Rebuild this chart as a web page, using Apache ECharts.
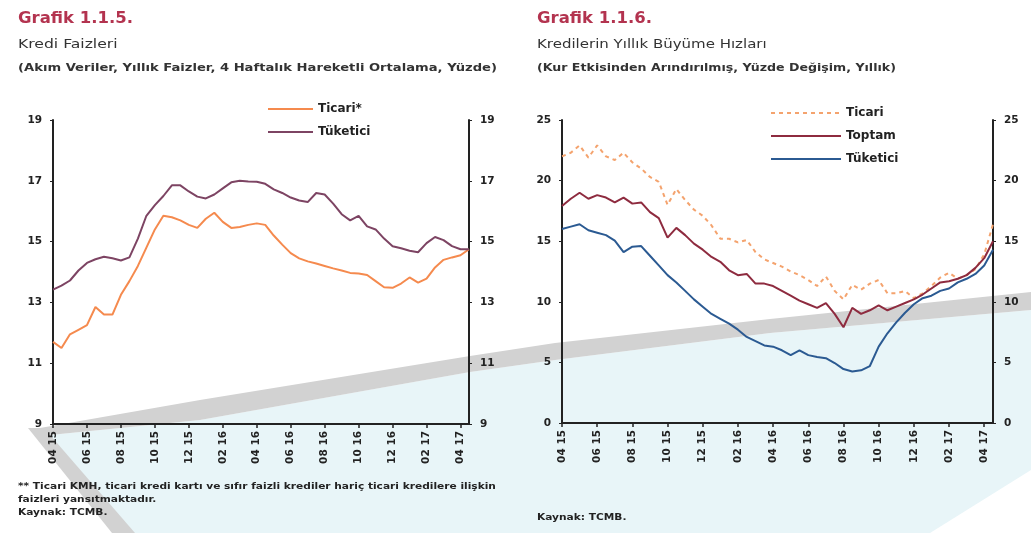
<!DOCTYPE html>
<html>
<head>
<meta charset="utf-8">
<script src="https://cdn.jsdelivr.net/npm/echarts@6/dist/echarts.min.js"></script>
<style>
  html, body { margin: 0; padding: 0; background: #fff; }
  #main { width: 1031px; height: 533px; }
</style>
</head>
<body>
<div id="main"></div>
<script>
// yarim aylik kategoriler: 04 15 ... 04 17 (sonu Nisan 17 ortasi)
const periods = [];
for (let i = 0; i < 50; i++) {
  const mm = ((3 + Math.floor(i / 2)) % 12) + 1;
  const yy = 15 + Math.floor((3 + Math.floor(i / 2)) / 12);
  periods.push((mm < 10 ? '0' + mm : '' + mm) + ' ' + yy + (i % 2 ? ' b' : ''));
}

// Grafik 1.1.5 - Kredi Faizleri
const faizTicari = [11.7, 11.5, 11.95, 12.1, 12.25, 12.85, 12.6, 12.6, 13.25, 13.7,
  14.2, 14.8, 15.4, 15.85, 15.8, 15.7, 15.55, 15.45, 15.75, 15.95,
  15.65, 15.45, 15.48, 15.55, 15.6, 15.55, 15.2, 14.9, 14.62, 14.45,
  14.35, 14.28, 14.2, 14.12, 14.05, 13.97, 13.95, 13.9, 13.7, 13.5,
  13.48, 13.62, 13.82, 13.65, 13.78, 14.15, 14.4, 14.48, 14.55, 14.75];
const faizTuketici = [13.42, 13.55, 13.72, 14.05, 14.3, 14.42, 14.5, 14.45, 14.38, 14.48,
  15.1, 15.85, 16.2, 16.5, 16.85, 16.85, 16.65, 16.48, 16.42, 16.55,
  16.75, 16.95, 17.0, 16.98, 16.97, 16.9, 16.72, 16.6, 16.45, 16.35,
  16.3, 16.6, 16.55, 16.25, 15.9, 15.7, 15.85, 15.5, 15.4, 15.1,
  14.85, 14.78, 14.7, 14.65, 14.95, 15.15, 15.05, 14.85, 14.75, 14.75];

// Grafik 1.1.6 - Kredilerin Yillik Buyume Hizlari
const buyumeTicari = [22.0, 22.3, 22.9, 21.9, 22.9, 22.0, 21.7, 22.3, 21.5, 21.0,
  20.3, 19.9, 18.0, 19.3, 18.4, 17.6, 17.1, 16.3, 15.2, 15.2,
  14.9, 15.1, 14.1, 13.5, 13.2, 12.9, 12.5, 12.2, 11.8, 11.3,
  12.1, 10.9, 10.2, 11.4, 11.0, 11.5, 11.8, 10.7, 10.7, 10.9,
  10.3, 10.7, 11.3, 12.0, 12.4, 11.9, 12.2, 12.7, 13.9, 16.4];
const buyumeToplam = [17.9, 18.5, 19.0, 18.5, 18.8, 18.6, 18.2, 18.6, 18.1, 18.2,
  17.4, 16.9, 15.3, 16.1, 15.5, 14.8, 14.3, 13.7, 13.3, 12.6,
  12.2, 12.3, 11.5, 11.5, 11.3, 10.9, 10.5, 10.1, 9.8, 9.5,
  9.9, 9.0, 7.9, 9.5, 9.0, 9.3, 9.7, 9.3, 9.6, 9.9,
  10.2, 10.6, 11.1, 11.6, 11.7, 11.9, 12.2, 12.8, 13.6, 15.0];
const buyumeTuketici = [16.0, 16.2, 16.4, 15.9, 15.7, 15.5, 15.05, 14.1, 14.55, 14.6,
  13.8, 13.0, 12.2, 11.6, 10.9, 10.2, 9.6, 9.0, 8.6, 8.2,
  7.7, 7.1, 6.75, 6.4, 6.3, 6.0, 5.6, 6.0, 5.6, 5.45,
  5.35, 4.95, 4.45, 4.25, 4.35, 4.7, 6.3, 7.4, 8.3, 9.1,
  9.8, 10.3, 10.5, 10.9, 11.1, 11.6, 11.9, 12.3, 13.0, 14.3];

const FONT = 'DejaVu Sans';
const legendNames = { 'Tüketici kredisi': 'Tüketici' };

function xAxisFor(gridIndex) {
  return {
    type: 'category', gridIndex: gridIndex, data: periods, boundaryGap: false,
    axisLine: { lineStyle: { color: '#222', width: 2 } },
    axisTick: { interval: 3, length: 4, lineStyle: { color: '#222', width: 1.5 } },
    axisLabel: {
      interval: 3, rotate: 90, margin: 7, color: '#222',
      fontFamily: FONT, fontWeight: 'bold', fontSize: 10.5,
      formatter: v => v.slice(0, 5)
    }
  };
}

function yAxisFor(gridIndex, pos, min, max, step) {
  return {
    type: 'value', gridIndex: gridIndex, position: pos,
    min: min, max: max, interval: step,
    splitLine: { show: false },
    axisLine: { show: true, lineStyle: { color: '#222', width: 2 } },
    axisTick: { show: true, length: 3, lineStyle: { color: '#222' } },
    axisLabel: { margin: 11, color: '#222', fontFamily: FONT, fontWeight: 'bold', fontSize: 10.5 }
  };
}

// yazilar genis bir yazi tipinde, bu yuzden yatayda biraz esnetiliyor
function txt(x, y, s, size, weight, color, sx) {
  return { type: 'text', x: x, y: y, scaleX: sx || 1, z: 10, silent: true,
    style: { text: s, x: 0, y: 0, verticalAlign: 'top',
      font: weight + ' ' + size + 'px "' + FONT + '"', fill: color } };
}

const legendText = { color: '#222', fontFamily: FONT, fontWeight: 'bold', fontSize: 12 };

const chart = echarts.init(document.getElementById('main'));

const option = {
  backgroundColor: '#ffffff',
  animation: false,
  grid: [
    { left: 53, right: 562, top: 120, bottom: 109 },
    { left: 562, right: 38, top: 120, bottom: 110 }
  ],
  xAxis: [xAxisFor(0), xAxisFor(1)],
  yAxis: [
    yAxisFor(0, 'left', 9, 19, 2),
    yAxisFor(0, 'right', 9, 19, 2),
    yAxisFor(1, 'left', 0, 25, 5),
    yAxisFor(1, 'right', 0, 25, 5)
  ],
  legend: [
    {
      data: ['Ticari*', 'Tüketici'], orient: 'vertical', left: 262, top: 98,
      itemWidth: 45, itemHeight: 12, itemGap: 11,
      itemStyle: { opacity: 0 },
      textStyle: legendText
    },
    {
      data: ['Ticari', 'Toptam', 'Tüketici kredisi'], orient: 'vertical', left: 765, top: 102,
      itemWidth: 70, itemHeight: 12, itemGap: 11,
      itemStyle: { opacity: 0 },
      formatter: n => legendNames[n] || n,
      textStyle: legendText
    }
  ],
  series: [
    { name: 'Ticari*', type: 'line', xAxisIndex: 0, yAxisIndex: 0, data: faizTicari,
      symbol: 'none', lineStyle: { color: '#f58a4e', width: 2 }, itemStyle: { color: '#f58a4e' } },
    { name: 'Tüketici', type: 'line', xAxisIndex: 0, yAxisIndex: 0, data: faizTuketici,
      symbol: 'none', lineStyle: { color: '#7d4463', width: 2 }, itemStyle: { color: '#7d4463' } },
    { name: 'Ticari', type: 'line', xAxisIndex: 1, yAxisIndex: 2, data: buyumeTicari,
      symbol: 'none', lineStyle: { color: '#f4a36e', width: 2, type: [4, 4] }, itemStyle: { color: '#f4a36e' } },
    { name: 'Toptam', type: 'line', xAxisIndex: 1, yAxisIndex: 2, data: buyumeToplam,
      symbol: 'none', lineStyle: { color: '#8e2b3f', width: 2 }, itemStyle: { color: '#8e2b3f' } },
    { name: 'Tüketici kredisi', type: 'line', xAxisIndex: 1, yAxisIndex: 2, data: buyumeTuketici,
      symbol: 'none', lineStyle: { color: '#2b5a92', width: 2 }, itemStyle: { color: '#2b5a92' } }
  ],
  graphic: [
    // sayfa zemini (taranmis sayfadaki acik mavi alan ve gri serit)
    { type: 'polygon', z: -10, silent: true,
      shape: { points: [[40, 436], [200, 420], [470, 372], [555, 360], [770, 333], [1031, 310],
        [1031, 470], [930, 533], [125, 533]] },
      style: { fill: '#e8f5f8' } },
    { type: 'polygon', z: -9, silent: true,
      shape: { points: [[40, 428], [200, 400], [470, 356], [555, 343], [770, 319], [1031, 292],
        [1031, 310], [770, 333], [555, 360], [470, 372], [200, 420], [40, 436]] },
      style: { fill: '#d2d2d2' } },
    { type: 'polygon', z: -9, silent: true,
      shape: { points: [[28, 428], [44, 428], [135, 533], [112, 533]] },
      style: { fill: '#d2d2d2' } },

    txt(18, 12, 'Grafik 1.1.5.', 15, 'bold', '#b3334f', 1.1),
    txt(18, 38, 'Kredi Faizleri', 12.5, 'normal', '#333', 1.25),
    txt(18, 63, '(Akım Veriler, Yıllık Faizler, 4 Haftalık Hareketli Ortalama, Yüzde)', 10.5, 'bold', '#333', 1.25),
    txt(537, 12, 'Grafik 1.1.6.', 15, 'bold', '#b3334f', 1.1),
    txt(537, 38, 'Kredilerin Yıllık Büyüme Hızları', 12.5, 'normal', '#333', 1.2),
    txt(537, 63, '(Kur Etkisinden Arındırılmış, Yüzde Değişim, Yıllık)', 10.5, 'bold', '#333', 1.2),

    txt(18, 482, '** Ticari KMH, ticari kredi kartı ve sıfır faizli krediler hariç ticari kredilere ilişkin', 9, 'bold', '#222', 1.18),
    txt(18, 495, 'faizleri yansıtmaktadır.', 9, 'bold', '#222', 1.18),
    txt(18, 508, 'Kaynak: TCMB.', 9, 'bold', '#222', 1.18),
    txt(537, 513, 'Kaynak: TCMB.', 9, 'bold', '#222', 1.18)
  ]
};

chart.setOption(option);
</script>
</body>
</html>
